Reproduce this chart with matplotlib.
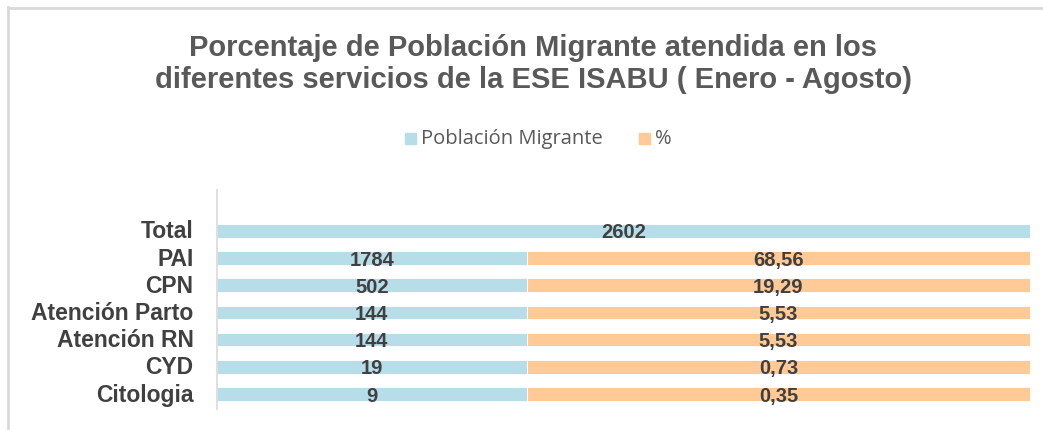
import matplotlib
matplotlib.use("Agg")
import matplotlib.pyplot as plt
from matplotlib.patches import Rectangle

categories = ["Total", "PAI", "CPN", "Atención Parto", "Atención RN", "CYD", "Citologia"]
poblacion = [2602, 1784, 502, 144, 144, 19, 9]
porcentaje = [None, "68,56", "19,29", "5,53", "5,53", "0,73", "0,35"]
title = "Porcentaje de Población Migrante atendida en los\ndiferentes servicios de la ESE ISABU ( Enero - Agosto)"
series_names = ["Población Migrante", "%"]

BLUE = "#B7DDE8"
ORANGE = "#FFCA96"
TXT = "#404040"
FONT = "Liberation Sans"

W, H = 1043, 431
fig = plt.figure(figsize=(W / 100, H / 100), dpi=100)
fig.patch.set_facecolor("white")

# outer chart border (left/top visible)
fig.add_artist(plt.Line2D([7.5 / W, 7.5 / W], [0, 1 - 8 / H], transform=fig.transFigure, color="#D9D9D9", lw=2))
fig.add_artist(plt.Line2D([7.5 / W, 1], [1 - 8.5 / H, 1 - 8.5 / H], transform=fig.transFigure, color="#D9D9D9", lw=2))

ax = fig.add_axes([217 / W, 1 - 410 / H, (1030 - 217) / W, (410 - 191) / H])

split = 0.381
n = len(categories)
ys = list(range(n))
lab_kw = dict(ha="center", va="center", fontsize=14.5, fontweight="bold", color=TXT, family=FONT)
for i, (cat, p, pc) in enumerate(zip(categories, poblacion, porcentaje)):
    if pc is None:
        ax.barh(i, 1.0, left=0, height=0.5, color=BLUE, edgecolor="white", linewidth=0.6)
        ax.text(0.5, i + 0.04, str(p), **lab_kw)
    else:
        ax.barh(i, split, left=0, height=0.5, color=BLUE, edgecolor="white", linewidth=0.6)
        ax.barh(i, 1 - split, left=split, height=0.5, color=ORANGE, edgecolor="white", linewidth=0.6)
        ax.text(split / 2, i + 0.04, str(p), **lab_kw)
        ax.text(split + (1 - split) / 2, i + 0.04, pc, **lab_kw)

ax.set_xlim(0, 1)
ax.set_ylim(n - 1 + 0.55, -1.5)
ax.set_yticks(ys)
ax.set_yticklabels(categories, fontsize=16.5, fontweight="bold", color=TXT, family=FONT, va="center")
ax.tick_params(axis="y", length=0, pad=17)
ax.set_xticks([])
for s in ["top", "right", "bottom"]:
    ax.spines[s].set_visible(False)
ax.spines["left"].set_color("#D9D9D9")
ax.spines["left"].set_linewidth(1.2)

fig.text(533 / W, 1 - 64 / H, title, ha="center", va="center", fontsize=21, fontweight="bold",
         color="#595959", family=FONT, linespacing=1.2)

# legend
ly = 1 - 139 / H
fig.add_artist(Rectangle((405 / W, ly - 5.5 / H), 11 / W, 11 / H, transform=fig.transFigure, color=BLUE))
fig.text(421 / W, ly, series_names[0], ha="left", va="center", fontsize=14.5, color="#595959", family="Open Sans")
fig.add_artist(Rectangle((639 / W, ly - 5.5 / H), 11 / W, 11 / H, transform=fig.transFigure, color=ORANGE))
fig.text(655 / W, ly, series_names[1], ha="left", va="center", fontsize=14.5, color="#595959", family="Open Sans")

fig.savefig("out.png", dpi=100, facecolor="white")
